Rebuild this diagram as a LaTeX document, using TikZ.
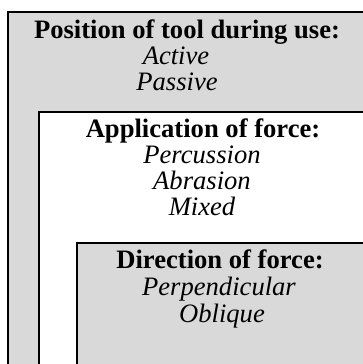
\documentclass[tikz,border=0pt]{standalone}
\usepackage{fontspec}
\setmainfont{Liberation Serif}
\definecolor{boxgray}{HTML}{D9D9D9}
\begin{document}
\begin{tikzpicture}[x=1pt,y=-1pt,
  boxline/.style={draw=black,line width=2pt},
  head/.style={anchor=base,inner sep=0pt,font=\fontsize{26.6}{26}\selectfont\bfseries},
  item/.style={anchor=base,inner sep=0pt,font=\fontsize{26.6}{26}\selectfont\itshape}]
\useasboundingbox (0,0) rectangle (363,364);
\begin{scope}
\clip (0,0) rectangle (363,364);
\draw[boxline,fill=boxgray] (8,12) rectangle (368,380);
\draw[boxline,fill=white] (39,112) rectangle (368,380);
\draw[boxline,fill=boxgray] (77,243) rectangle (368,380);
\end{scope}
\node[head] (pos) at (187,38) {Position of tool during use:};
\node[item] (act) at (176,64) {Active};
\node[item] (pas) at (177,90) {Passive};
\node[head] (app) at (203,137) {Application of force:};
\node[item] (per) at (202,163) {Percussion};
\node[item] (abr) at (202,189) {Abrasion};
\node[item] (mix) at (202,215) {Mixed};
\node[head] (dir) at (220,268) {Direction of force:};
\node[item] (perp) at (219,295) {Perpendicular};
\node[item] (obl) at (222,322) {Oblique};
\end{tikzpicture}
\end{document}
